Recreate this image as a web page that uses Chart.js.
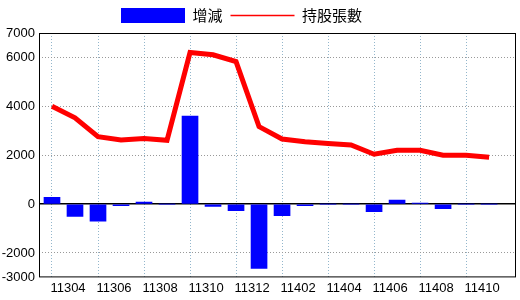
<!DOCTYPE html>
<html>
<head>
<meta charset="utf-8">
<script src="https://cdn.jsdelivr.net/npm/chart.js@4"></script>
<style>
html, body { margin: 0; padding: 0; background: #fff; }
#wrap { width: 520px; height: 300px; }
</style>
</head>
<body>
<div id="wrap"><canvas id="holdings"></canvas></div>
<script>
const months = ['11303', '11304', '11305', '11306', '11307', '11308', '11309', '11310', '11311', '11312',
                '11401', '11402', '11403', '11404', '11405', '11406', '11407', '11408', '11409', '11410'];
const changes = [280, -500, -700, -60, 80, 0, 3600, -100, -270, -2630, -470, -60, 0, 0, -310, 160, 40, -190, 0, 0];
const holdings = [4000, 3530, 2760, 2620, 2680, 2610, 6200, 6110, 5830, 3170, 2660, 2550, 2480, 2420, 2040, 2200, 2200, 2000, 2000, 1920];
const yTicks = [-3000, -2000, 0, 2000, 4000, 6000, 7000];

const numFont = { family: "'Liberation Sans Narrow', 'Liberation Sans', Arial, sans-serif", size: 13 };

// frame round the plot + move legend to where the original has it
const frame = {
    id: 'frame',
    beforeDraw(chart) {
        chart.legend.left = 113;
    },
    afterDraw(chart) {
        const { ctx, chartArea: a } = chart;
        ctx.save();
        ctx.strokeStyle = '#000';
        ctx.lineWidth = 1;
        ctx.strokeRect(a.left + 0.5, a.top + 0.5, a.right - a.left - 1, a.bottom - a.top - 1);
        ctx.restore();
    }
};

const holdingsChart = new Chart(document.getElementById('holdings'), {
    data: {
        datasets: [{
            type: 'bar',
            label: '增減',
            data: changes.map((v, i) => ({ x: i, y: v })),
            backgroundColor: '#0000ff',
            barThickness: 16
        }, {
            type: 'line',
            label: '持股張數',
            data: holdings.map((v, i) => ({ x: i, y: v })),
            borderColor: '#ff0000',
            backgroundColor: '#ff0000',
            borderWidth: 5,
            pointRadius: 0,
            tension: 0
        }]
    },
    options: {
        responsive: true,
        maintainAspectRatio: false,
        animation: false,
        layout: { padding: { right: 4, bottom: 1 } },
        plugins: {
            tooltip: { enabled: false },
            legend: {
                align: 'start',
                labels: {
                    usePointStyle: true,
                    pointStyleWidth: 64,
                    boxHeight: 15,
                    padding: 8,
                    color: '#000',
                    font: { family: "'Noto Sans CJK TC', sans-serif", size: 15 },
                    generateLabels(chart) {
                        const items = Chart.defaults.plugins.legend.labels.generateLabels(chart);
                        items[0].pointStyle = 'rect';
                        items[0].lineWidth = 0;
                        items[1].pointStyle = 'line';
                        items[1].lineWidth = 1.5;
                        items[1].strokeStyle = '#ff0000';
                        items[1].fillStyle = '#ff0000';
                        return items;
                    }
                }
            }
        },
        scales: {
            x: {
                type: 'linear',
                offset: false,
                min: -0.565,
                max: 20.17,
                afterBuildTicks: scale => { scale.ticks = months.map((m, i) => ({ value: i })); },
                ticks: {
                    autoSkip: false,
                    maxRotation: 0,
                    labelOffset: -7,
                    padding: 3,
                    color: '#000',
                    font: numFont,
                    callback: v => (v % 2 === 1 ? months[v] : '')
                },
                grid: {
                    offset: false,
                    drawTicks: false,
                    color: c => (c.tick && c.tick.value % 2 === 0 ? '#93b6cc' : 'rgba(0,0,0,0)')
                },
                border: { display: false, dash: [1, 2] }
            },
            y: {
                min: -3000,
                max: 7000,
                afterBuildTicks: scale => { scale.ticks = yTicks.map(v => ({ value: v })); },
                afterFit: scale => { scale.width = 39; },
                ticks: {
                    padding: 4,
                    color: '#000',
                    font: numFont,
                    callback: v => String(v)
                },
                grid: {
                    drawTicks: false,
                    color: c => {
                        if (!c.tick) return 'rgba(0,0,0,0)';
                        if (c.tick.value === 0) return '#000';
                        if (c.tick.value === 7000 || c.tick.value === -3000) return 'rgba(0,0,0,0)';
                        return '#999';
                    },
                    lineWidth: c => (c.tick && c.tick.value === 0 ? 1.5 : 1)
                },
                border: {
                    display: false,
                    dash: c => (c.tick && c.tick.value === 0 ? [] : [1, 2])
                }
            }
        }
    },
    plugins: [frame]
});
</script>
</body>
</html>
